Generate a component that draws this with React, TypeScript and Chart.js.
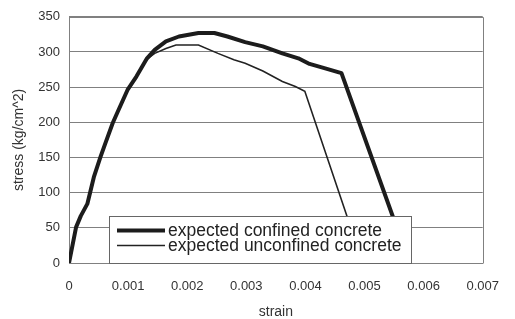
import React, { useEffect, useRef } from "react";
import { Chart, registerables } from "chart.js";

Chart.register(...registerables);

const confinedStrain = [0, 0.00012, 0.0002, 0.00031, 0.00042, 0.00053, 0.00061, 0.00074, 0.00083, 0.00099, 0.00114, 0.00132, 0.00145, 0.00164, 0.00186, 0.00219, 0.00246, 0.00268, 0.00298, 0.00328, 0.00361, 0.00388, 0.00407, 0.00432, 0.00461, 0.00576];
const confinedStress = [0, 51, 67, 84, 122, 150, 169, 199, 216, 246, 265, 291, 303, 315, 322, 327, 327, 322, 314, 308, 298, 291, 283, 277, 270, 0];

const unconfinedStrain = [0, 0.00012, 0.0002, 0.00031, 0.00042, 0.00053, 0.00061, 0.00074, 0.00083, 0.00099, 0.00114, 0.00132, 0.00145, 0.00164, 0.00181, 0.00219, 0.00252, 0.00279, 0.00298, 0.00328, 0.00361, 0.00383, 0.00399, 0.00497];
const unconfinedStress = [0, 51, 67, 84, 122, 150, 169, 199, 216, 246, 265, 290, 298, 305, 310, 310, 298, 289, 284, 273, 258, 251, 244, 0];

const seriesLabels = ["expected confined concrete", "expected unconfined concrete"];
const xTickLabels = ["0", "0.001", "0.002", "0.003", "0.004", "0.005", "0.006", "0.007"];
const yTickLabels = ["0", "50", "100", "150", "200", "250", "300", "350"];
const xTitle = "strain";
const yTitle = "stress (kg/cm^2)";

const FONT = "'Liberation Sans', Arial, sans-serif";

const frameAndLegend = {
  id: "frameAndLegend",
  beforeDatasetsDraw(chart: any) {
    const { ctx, chartArea } = chart;
    ctx.save();
    ctx.strokeStyle = "#808080";
    ctx.lineWidth = 1;
    ctx.beginPath();
    ctx.moveTo(Math.round(chartArea.left) + 0.5, Math.round(chartArea.top) + 0.5);
    ctx.lineTo(Math.round(chartArea.right) + 0.5, Math.round(chartArea.top) + 0.5);
    ctx.lineTo(Math.round(chartArea.right) + 0.5, Math.round(chartArea.bottom) + 0.5);
    ctx.stroke();
    ctx.restore();
  },
  afterDatasetsDraw(chart: any) {
    const { ctx, chartArea } = chart;
    const x0 = 109.5, y0 = 216.5, x1 = 411.5, y1 = Math.round(chartArea.bottom) + 0.5;
    ctx.save();
    ctx.fillStyle = "#ffffff";
    ctx.fillRect(x0, y0, x1 - x0, y1 - y0);
    ctx.strokeStyle = "#666666";
    ctx.lineWidth = 1;
    ctx.strokeRect(x0, y0, x1 - x0, y1 - y0);
    const rows = [230.5, 245.5];
    chart.data.datasets.forEach((ds: any, i: number) => {
      ctx.strokeStyle = ds.borderColor;
      ctx.lineWidth = ds.borderWidth;
      ctx.beginPath();
      ctx.moveTo(117, rows[i]);
      ctx.lineTo(165, rows[i]);
      ctx.stroke();
      ctx.fillStyle = "#222222";
      ctx.font = `17.5px ${FONT}`;
      ctx.textBaseline = "middle";
      ctx.textAlign = "left";
      ctx.fillText(ds.label, 168, rows[i] + 0.5);
    });
    ctx.restore();
  },
};

export default function App() {
  const ref = useRef<HTMLCanvasElement | null>(null);
  useEffect(() => {
    if (!ref.current) return;
    const chart = new Chart(ref.current, {
      type: "line",
      data: {
        datasets: [
          {
            label: seriesLabels[0],
            data: confinedStrain.map((x, i) => ({ x, y: confinedStress[i] })),
            borderColor: "#1c1c1c",
            borderWidth: 4,
            pointRadius: 0,
            tension: 0,
            borderJoinStyle: "round",
            borderCapStyle: "round",
          },
          {
            label: seriesLabels[1],
            data: unconfinedStrain.map((x, i) => ({ x, y: unconfinedStress[i] })),
            borderColor: "#222222",
            borderWidth: 1.6,
            pointRadius: 0,
            tension: 0,
          },
        ],
      },
      options: {
        responsive: false,
        animation: false,
        layout: { padding: { left: 0, top: 16, right: 18, bottom: 0 } },
        plugins: { legend: { display: false }, tooltip: { enabled: false } },
        scales: {
          x: {
            type: "linear",
            min: 0,
            max: 0.007,
            afterFit: (s: any) => { s.height = 56; },
            afterBuildTicks: (s: any) => {
              s.ticks = xTickLabels.map((_, i) => ({ value: i * 0.001 }));
            },
            grid: { display: false, drawTicks: false },
            border: { display: true, color: "#808080", width: 1 },
            ticks: {
              padding: 16,
              color: "#333333",
              font: { family: FONT, size: 13 },
              maxRotation: 0,
              autoSkip: false,
              callback: (_v: any, i: number) => xTickLabels[i],
            },
            title: {
              display: true,
              text: xTitle,
              color: "#333333",
              font: { family: FONT, size: 14, lineHeight: 1 },
              padding: { top: 0, bottom: 0 },
            },
          },
          y: {
            type: "linear",
            min: 0,
            max: 350,
            afterFit: (s: any) => { s.width = 69; },
            afterBuildTicks: (s: any) => {
              s.ticks = yTickLabels.map((_, i) => ({ value: i * 50 }));
            },
            grid: { color: "#808080", lineWidth: 1, drawTicks: false },
            border: { display: true, color: "#808080", width: 1 },
            ticks: {
              padding: 9,
              color: "#333333",
              font: { family: FONT, size: 13 },
              autoSkip: false,
              callback: (_v: any, i: number) => yTickLabels[i],
            },
            title: {
              display: true,
              text: yTitle,
              color: "#333333",
              font: { family: FONT, size: 14, lineHeight: 1 },
              padding: { top: 12, bottom: 0 },
            },
          },
        },
      },
      plugins: [frameAndLegend],
    });
    return () => chart.destroy();
  }, []);
  return (
    <div style={{ position: "absolute", left: 0, top: 0, width: 515, height: 319, background: "#fff" }}>
      <canvas ref={ref} width={515} height={319} style={{ display: "block", width: 515, height: 319 }} />
    </div>
  );
}
